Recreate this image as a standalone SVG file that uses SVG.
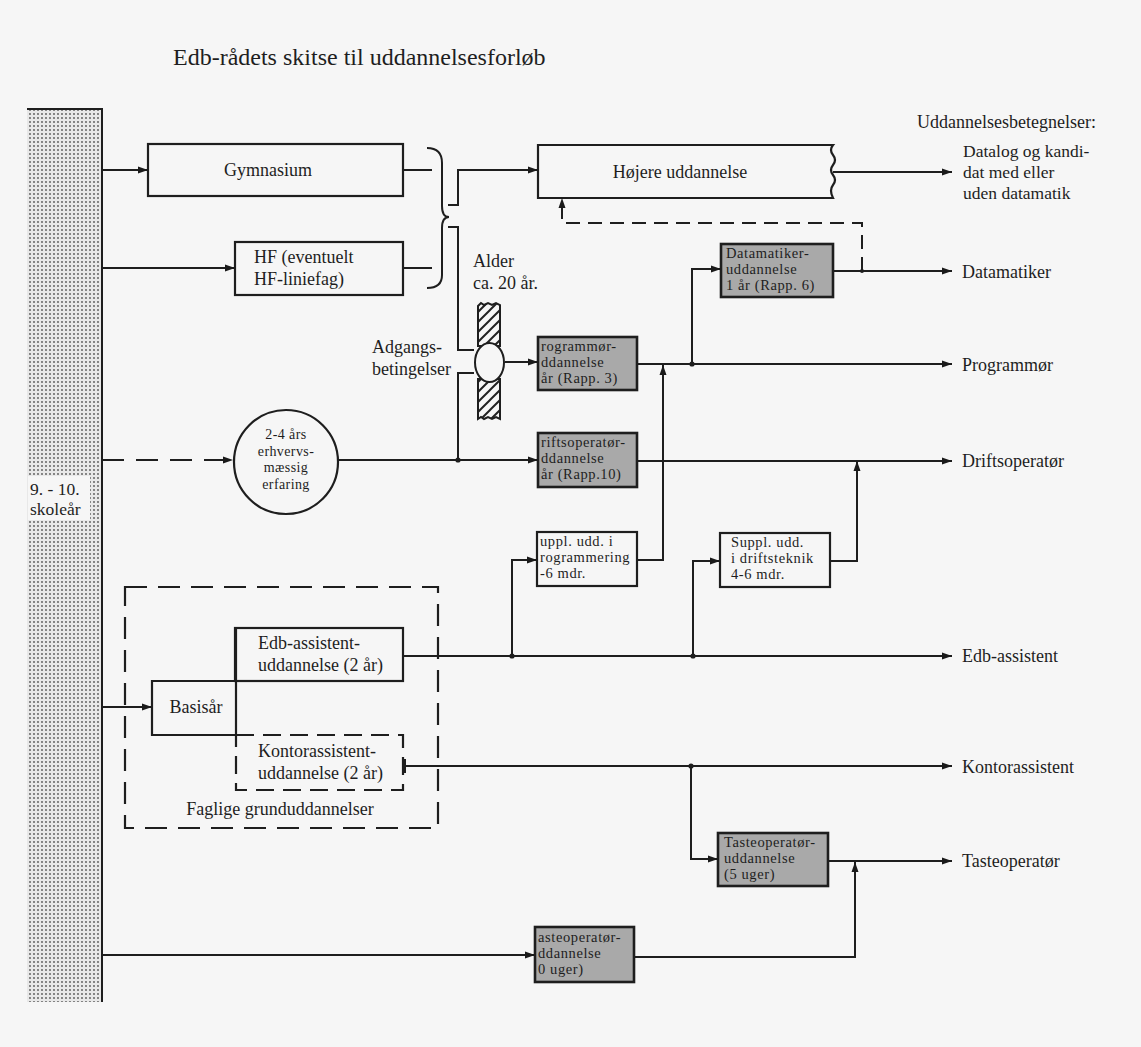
<svg xmlns="http://www.w3.org/2000/svg" width="1141" height="1047" viewBox="0 0 1141 1047">
<defs>
<pattern id="dots" patternUnits="userSpaceOnUse" width="4" height="4">
<rect width="4" height="4" fill="#e8e8e8"/>
<circle cx="2" cy="2" r="0.9" fill="#555"/>
</pattern>
<pattern id="hatch" patternUnits="userSpaceOnUse" width="10" height="10">
<rect width="10" height="10" fill="#f6f6f6"/>
<path d="M-2,12 L12,-2 M-2,2 L2,-2 M8,12 L12,8" stroke="#222" stroke-width="2"/>
</pattern>
<marker id="arr" markerUnits="userSpaceOnUse" markerWidth="11" markerHeight="8" refX="10" refY="4" orient="auto">
<path d="M0,0.5 L10,4 L0,7.5 z" fill="#1a1a1a"/>
</marker>
</defs>
<style>
text{font-family:"Liberation Serif","Times New Roman",serif;fill:#1e1e1e;}
.t{font-size:18px;}
.s{font-size:14.5px;letter-spacing:0.6px;}
.r{font-size:14px;letter-spacing:0.4px;}
.c{text-anchor:middle;}
.box{fill:none;stroke:#1e1e1e;stroke-width:2.2;}
.gray{fill:#a9a9a9;stroke:#1e1e1e;stroke-width:2.6;}
.dbox{fill:none;stroke:#1e1e1e;stroke-width:2.2;stroke-dasharray:22,11;}
.ln{fill:none;stroke:#1e1e1e;stroke-width:2;}
.ar{marker-end:url(#arr);}
.dash{stroke-dasharray:22,12;}
.dash2{stroke-dasharray:14,8;}
.dot{fill:#1e1e1e;}
</style>
<rect width="1141" height="1047" fill="#f6f6f6"/>

<text x="173" y="65" style="font-size:24px">Edb-rådets skitse til uddannelsesforløb</text>

<g id="skole">
<rect x="27" y="109" width="75" height="893" fill="url(#dots)"/>
<path d="M27,109 H102 V1002" class="ln" stroke-width="2.4"/>
<rect x="28" y="476" width="62" height="44" fill="#f6f6f6"/>
<text x="30" y="495" style="font-size:17.5px">9. - 10.</text>
<text x="30" y="515" style="font-size:17.5px">skoleår</text>
</g>

<g id="gymnasium">
<rect x="148" y="144" width="255" height="52" class="box"/>
<text x="268" y="176" class="t c">Gymnasium</text>
</g>

<g id="hf">
<rect x="235" y="242" width="168" height="53" class="box"/>
<text x="254" y="263" class="t">HF (eventuelt</text>
<text x="254" y="285" class="t">HF-liniefag)</text>
</g>

<g id="hojere">
<path d="M538,145 H833 Q829,150 833,155 Q837,160 833,165 Q829,170 833,175 Q837,180 833,185 Q829,190 833,198 H538 Z" class="box"/>
<text x="680" y="178" class="t c">Højere uddannelse</text>
</g>

<g id="adgang">
<text x="473" y="267" class="t">Alder</text>
<text x="473" y="289" class="t">ca. 20 år.</text>
<text x="372" y="353" class="t">Adgangs-</text>
<text x="372" y="375" class="t">betingelser</text>
<path d="M478,306 l3,-3 l3,2 l4,-2 l4,2 l4,-2 l4,2 V346 H478 Z" fill="url(#hatch)" stroke="#1e1e1e" stroke-width="2"/>
<path d="M478,379 H500 V419 l-4,-2 l-4,2 l-4,-2 l-4,2 l-3,-2 l-3,2 Z" fill="url(#hatch)" stroke="#1e1e1e" stroke-width="2"/>
<ellipse cx="489.5" cy="362.5" rx="14.5" ry="19.5" fill="#f6f6f6" stroke="#1e1e1e" stroke-width="2"/>
</g>

<g id="erfaring">
<circle cx="286" cy="462" r="52" fill="none" stroke="#1e1e1e" stroke-width="2.2"/>
<text x="286" y="439" class="r c">2-4 års</text>
<text x="286" y="455.5" class="r c">erhvervs-</text>
<text x="286" y="472" class="r c">mæssig</text>
<text x="286" y="488.5" class="r c">erfaring</text>
</g>

<g id="programmor-udd">
<rect x="538" y="337" width="99" height="53" class="gray"/>
<text x="541" y="351" class="s">rogrammør-</text>
<text x="541" y="367" class="s">ddannelse</text>
<text x="541" y="383" class="s">år (Rapp. 3)</text>
</g>

<g id="drift-udd">
<rect x="538" y="433" width="99" height="54" class="gray"/>
<text x="541" y="447" class="s">riftsoperatør-</text>
<text x="541" y="463" class="s">ddannelse</text>
<text x="541" y="479" class="s">år (Rapp.10)</text>
</g>

<g id="datamatiker-udd">
<rect x="721" y="244" width="112" height="53" class="gray"/>
<text x="726" y="258" class="s">Datamatiker-</text>
<text x="726" y="274" class="s">uddannelse</text>
<text x="726" y="290" class="s">1 år (Rapp. 6)</text>
</g>

<g id="suppl-prog">
<rect x="537" y="532" width="100" height="54" class="box"/>
<text x="540" y="546" class="s">uppl. udd. i</text>
<text x="540" y="562" class="s">rogrammering</text>
<text x="540" y="578" class="s">-6 mdr.</text>
</g>

<g id="suppl-drift">
<rect x="720" y="533" width="110" height="54" class="box"/>
<text x="731" y="547" class="s">Suppl. udd.</text>
<text x="731" y="563" class="s">i driftsteknik</text>
<text x="731" y="579" class="s">4-6 mdr.</text>
</g>

<g id="faglige">
<rect x="125" y="587" width="313" height="241" class="dbox"/>
<text x="280" y="815" class="t c">Faglige grunduddannelser</text>
</g>

<g id="edb-udd">
<rect x="235" y="628" width="168" height="53" class="box"/>
<text x="258" y="649" class="t">Edb-assistent-</text>
<text x="258" y="671" class="t">uddannelse (2 år)</text>
</g>

<g id="basisar">
<path d="M236,681 H152 V735 H236 V628" class="box"/>
<text x="196" y="713" class="t c">Basisår</text>
</g>

<g id="kontor-udd">
<rect x="236" y="735" width="167" height="55" class="dbox" style="stroke-dasharray:18,9"/>
<text x="258" y="757" class="t">Kontorassistent-</text>
<text x="258" y="779" class="t">uddannelse (2 år)</text>
</g>

<g id="taste5">
<rect x="718" y="833" width="110" height="53" class="gray"/>
<text x="724" y="847" class="s">Tasteoperatør-</text>
<text x="724" y="863" class="s">uddannelse</text>
<text x="724" y="879" class="s">(5 uger)</text>
</g>

<g id="taste10">
<rect x="535" y="927" width="99" height="55" class="gray"/>
<text x="538" y="942" class="s">asteoperatør-</text>
<text x="538" y="958" class="s">ddannelse</text>
<text x="538" y="974" class="s">0 uger)</text>
</g>

<g id="labels">
<text x="917" y="128" class="t">Uddannelsesbetegnelser:</text>
<text x="963" y="157" style="font-size:17.5px">Datalog og kandi-</text>
<text x="963" y="178" style="font-size:17.5px">dat med eller</text>
<text x="963" y="199" style="font-size:17.5px">uden datamatik</text>
<text x="962" y="278" class="t">Datamatiker</text>
<text x="962" y="371" class="t">Programmør</text>
<text x="962" y="467" class="t">Driftsoperatør</text>
<text x="962" y="662" class="t">Edb-assistent</text>
<text x="962" y="773" class="t">Kontorassistent</text>
<text x="962" y="867" class="t">Tasteoperatør</text>
</g>

<g id="connectors">
<path d="M102,170 H148" class="ln ar"/>
<path d="M102,268 H235" class="ln ar"/>
<path d="M403,170 H432" class="ln"/>
<path d="M403,268 H432" class="ln"/>
<path d="M427,148 Q442,148 442,163 L442,206 Q442,217 449,217 Q442,217 442,228 L442,275 Q442,288 427,288" class="ln"/>
<path d="M448,205 H458 V170 H538" class="ln ar"/>
<path d="M448,227 H458 V350 H474" class="ln"/>
<path d="M474,373 H458 V460" class="ln"/>
<path d="M505,362 H538" class="ln ar"/>
<path d="M102,460 H233" class="ln ar dash"/>
<path d="M338,460 H538" class="ln ar"/>
<path d="M833,172 H952" class="ln ar"/>
<path d="M637,364 H952" class="ln ar"/>
<path d="M692,364 V269 H721" class="ln ar"/>
<path d="M833,271 H952" class="ln ar"/>
<path d="M862,271 V223 H562 V198" class="ln ar dash2"/>
<path d="M637,461 H952" class="ln ar"/>
<path d="M637,560 H663 V365" class="ln ar"/>
<path d="M102,707 H152" class="ln ar"/>
<path d="M403,656 H952" class="ln ar"/>
<path d="M512,656 V560 H537" class="ln ar"/>
<path d="M693,656 V561 H720" class="ln ar"/>
<path d="M830,561 H857 V461" class="ln ar"/>
<path d="M405,766 H952" class="ln ar"/>
<path d="M405,759 V773" class="ln"/>
<path d="M691,766 V859 H718" class="ln ar"/>
<path d="M828,861 H952" class="ln ar"/>
<path d="M102,955 H535" class="ln ar"/>
<path d="M634,957 H855 V862" class="ln ar"/>
<circle cx="458" cy="460" r="2.6" class="dot"/>
<circle cx="692" cy="364" r="2.6" class="dot"/>
<circle cx="512" cy="656" r="2.6" class="dot"/>
<circle cx="693" cy="656" r="2.6" class="dot"/>
<circle cx="691" cy="766" r="2.6" class="dot"/>
<circle cx="862" cy="271" r="2" class="dot"/>
</g>
</svg>
